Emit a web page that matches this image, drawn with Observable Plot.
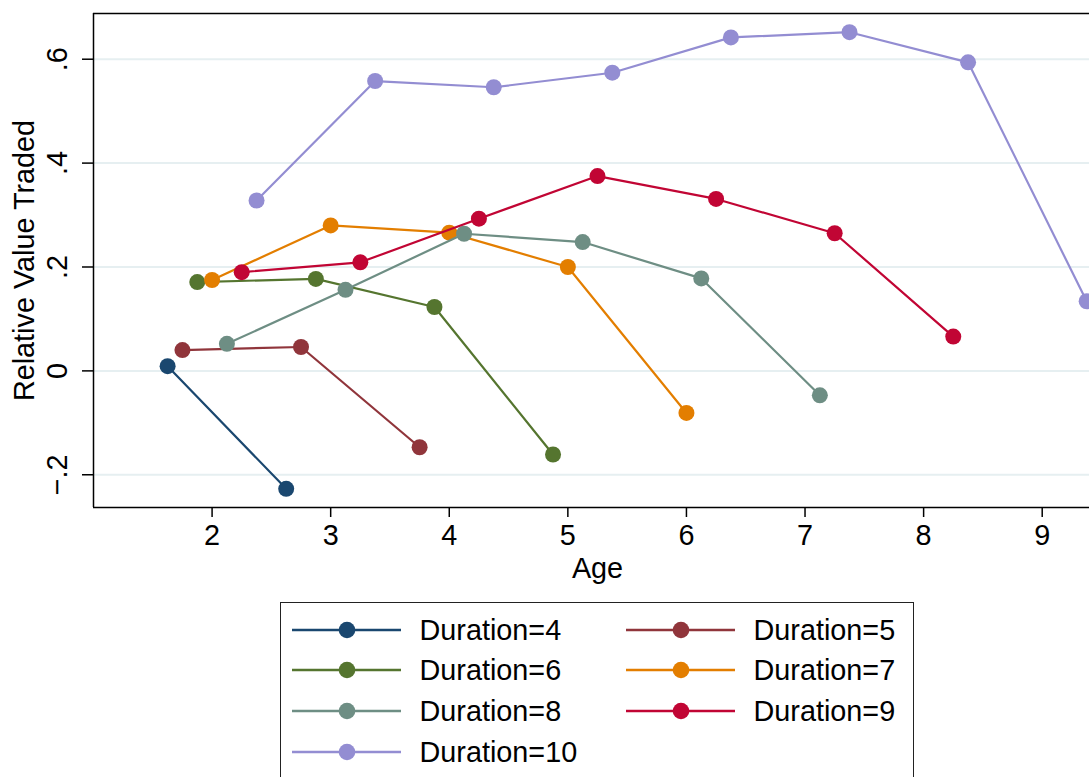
<!DOCTYPE html>
<html>
<head>
<meta charset="utf-8">
<script src="https://cdn.jsdelivr.net/npm/d3@7"></script>
<script src="https://cdn.jsdelivr.net/npm/@observablehq/plot@0.6"></script>
<style>
  html, body { margin: 0; padding: 0; background: #fff; overflow: hidden; }
  #page { position: relative; width: 1089px; height: 777px; overflow: hidden; background: #fff;
          font-family: "Liberation Sans", Arial, Helvetica, sans-serif; }
  #chart { position: absolute; left: 0; top: 0; width: 1101px; }
  #chart svg { max-width: none !important; }
  #legend { position: absolute; left: 280px; top: 602px; width: 634px; height: 200px;
            border: 1.5px solid #222; box-sizing: border-box; background: #fff; }
  .lg-sw { position: absolute; }
  .lg-tx { position: absolute; font-size: 28.8px; line-height: 40px; height: 40px; color: #000; white-space: nowrap; }
</style>
</head>
<body>
<div id="page">
  <div id="chart"></div>
  <div id="legend"></div>
</div>
<script>
// ---- Data ----
const durations = [4, 5, 6, 7, 8, 9, 10];
const seriesLabels = ["Duration=4", "Duration=5", "Duration=6", "Duration=7", "Duration=8", "Duration=9", "Duration=10"];
const seriesColors = ["#1a476f", "#90353b", "#55752f", "#e37e00", "#6e8e84", "#c10534", "#938dd2"];

const age4 = [1.625, 2.625];
const val4 = [0.009, -0.227];
const age5 = [1.75, 2.75, 3.75];
const val5 = [0.040, 0.046, -0.147];
const age6 = [1.875, 2.875, 3.875, 4.875];
const val6 = [0.171, 0.177, 0.123, -0.161];
const age7 = [2, 3, 4, 5, 6];
const val7 = [0.175, 0.280, 0.266, 0.200, -0.081];
const age8 = [2.125, 3.125, 4.125, 5.125, 6.125, 7.125];
const val8 = [0.052, 0.156, 0.264, 0.248, 0.178, -0.047];
const age9 = [2.25, 3.25, 4.25, 5.25, 6.25, 7.25, 8.25];
const val9 = [0.190, 0.209, 0.293, 0.375, 0.331, 0.265, 0.066];
const age10 = [2.375, 3.375, 4.375, 5.375, 6.375, 7.375, 8.375, 9.375];
const val10 = [0.328, 0.558, 0.546, 0.574, 0.642, 0.652, 0.594, 0.134];

const xTicks = [2, 3, 4, 5, 6, 7, 8, 9];
const yTicks = [0.6, 0.4, 0.2, 0, -0.2];
const yTickLabels = [".6", ".4", ".2", "0", "\u2212.2"];
const xDomain = [1, 9.5];
const yDomain = [-0.263, 0.688];

const ageArrays = [age4, age5, age6, age7, age8, age9, age10];
const valArrays = [val4, val5, val6, val7, val8, val9, val10];

// Build per-series tables
const series = durations.map((d, k) =>
  ageArrays[k].map((a, i) => ({duration: d, age: a, value: valArrays[k][i]}))
);

const font = "'Liberation Sans', Arial, Helvetica, sans-serif";
const fs = 28.8;

const seriesMarks = series.flatMap((rows, k) => [
  Plot.line(rows, {x: "age", y: "value", stroke: seriesColors[k], strokeWidth: 2.2}),
  Plot.dot(rows, {x: "age", y: "value", r: 8, fill: seriesColors[k], stroke: "none"})
]);

const chart = Plot.plot({
  width: 1101,
  height: 595,
  marginLeft: 93,
  marginRight: 0,
  marginTop: 13,
  marginBottom: 88,
  x: {domain: xDomain, label: null},
  y: {domain: yDomain, label: null},
  style: {fontFamily: font, background: "#fff", color: "#000", overflow: "visible", maxWidth: "none"},
  marks: [
    Plot.gridY(yTicks, {stroke: "#e6eff1", strokeOpacity: 1, strokeWidth: 2}),
    Plot.ruleY([yDomain[1]], {stroke: "#000", strokeWidth: 1.5}),
    Plot.ruleY([yDomain[0]], {stroke: "#000", strokeWidth: 1.5}),
    Plot.ruleX([xDomain[0]], {stroke: "#000", strokeWidth: 1.5}),
    Plot.axisY({ticks: yTicks, tickSize: 11, tickFormat: () => "", label: null, stroke: "#000", strokeWidth: 1.5}),
    Plot.text(yTicks, {y: d => d, text: (d, i) => yTickLabels[i], frameAnchor: "left", rotate: -90,
      dx: -35.5, textAnchor: "middle", lineAnchor: "middle", fontSize: fs, fill: "#000"}),
    Plot.axisX({ticks: xTicks, tickSize: 10, tickPadding: 7, fontSize: fs, label: null, stroke: "#000", strokeWidth: 1.5, fill: "#000"}),
    Plot.text(["Relative Value Traded"], {frameAnchor: "left", rotate: -90, dx: -69,
      textAnchor: "middle", lineAnchor: "middle", fontSize: fs, fill: "#000"}),
    Plot.text(["Age"], {frameAnchor: "bottom", dy: 61, lineAnchor: "middle", fontSize: fs, fill: "#000"}),
    ...seriesMarks
  ]
});
chart.style.maxWidth = "none";
document.getElementById("chart").appendChild(chart);

// ---- Legend (HTML, below the SVG) ----
const legend = document.getElementById("legend");
const legLeft = 280, legTop = 602;
seriesLabels.forEach((lab, i) => {
  const col = i % 2, row = Math.floor(i / 2);
  const cy = 630 + row * 40.7 - legTop - 1.5;
  const lineX = 292 + col * 334 - legLeft - 1.5;
  const textX = 420 + col * 334 - legLeft - 1.5;
  const sw = document.createElementNS("http://www.w3.org/2000/svg", "svg");
  sw.setAttribute("width", 110);
  sw.setAttribute("height", 20);
  sw.setAttribute("class", "lg-sw");
  sw.style.left = lineX + "px";
  sw.style.top = (cy - 10) + "px";
  sw.innerHTML = `<line x1="0" y1="10" x2="109" y2="10" stroke="${seriesColors[i]}" stroke-width="2.5"/>` +
                 `<circle cx="55" cy="10" r="8.3" fill="${seriesColors[i]}"/>`;
  legend.appendChild(sw);
  const tx = document.createElement("div");
  tx.className = "lg-tx";
  tx.textContent = lab;
  tx.style.left = textX + "px";
  tx.style.top = (cy - 20) + "px";
  legend.appendChild(tx);
});
</script>
</body>
</html>
